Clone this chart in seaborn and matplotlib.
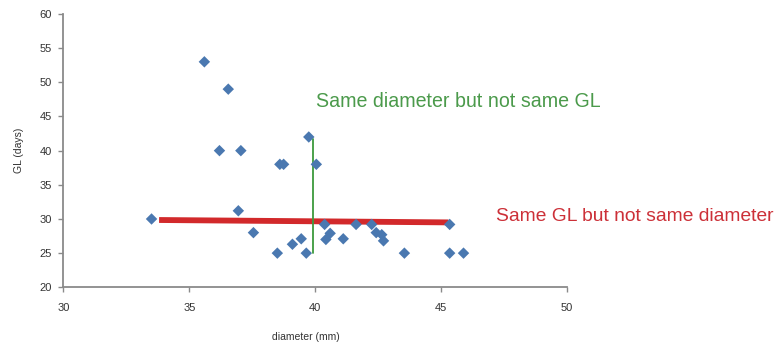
import matplotlib
matplotlib.use("Agg")
import matplotlib.pyplot as plt
import seaborn as sns
import pandas as pd

# data
diameter = [33.5, 35.6, 36.55, 36.2, 37.05, 38.6, 38.75, 39.75, 40.05,
            36.95, 37.55, 38.5, 39.1, 39.45, 39.65,
            40.38, 40.6, 40.43, 41.12, 41.63, 42.25, 42.43, 42.65, 42.72,
            43.55, 45.35, 45.35, 45.9]
gl_days = [30, 53, 49, 40, 40, 38, 38, 42, 38,
           31.2, 28, 25, 26.3, 27.1, 25,
           29.2, 27.9, 27.0, 27.1, 29.2, 29.2, 28.0, 27.7, 26.8,
           25, 29.2, 25, 25]

red_line_x = [33.8, 45.3]
red_line_y = [29.85, 29.5]
green_line_x = [39.9, 39.9]
green_line_y = [41.7, 25.0]

x_ticks = [30, 35, 40, 45, 50]
y_ticks = [20, 25, 30, 35, 40, 45, 50, 55, 60]

note_green = "Same diameter but not same GL"
note_red = "Same GL but not same diameter"

sns.set_theme(style="white")
plt.rcParams['font.family'] = ['Liberation Sans', 'DejaVu Sans']

fig = plt.figure(figsize=(7.77, 3.48), dpi=100)
ax = fig.add_axes([0.0817, 0.1744, 0.6476, 0.7854])

df = pd.DataFrame({"diameter": diameter, "gl": gl_days})
sns.lineplot(x=red_line_x, y=red_line_y, ax=ax, color="#d2292b", linewidth=4.2,
             estimator=None, sort=False, solid_capstyle="butt", zorder=2)
sns.lineplot(x=green_line_x, y=green_line_y, ax=ax, color="#3d9a3d", linewidth=1.3,
             estimator=None, sort=False, zorder=2)
sns.scatterplot(data=df, x="diameter", y="gl", ax=ax, marker="D", s=34,
                color="#4a78b0", edgecolor="none", linewidth=0, zorder=3)

ax.set_xlim(30, 50)
ax.set_ylim(20, 60)
ax.set_xticks(x_ticks)
ax.set_yticks(y_ticks)
ax.set_xticklabels([str(t) for t in x_ticks])
ax.set_yticklabels([str(t) for t in y_ticks])

for s in ["top", "right"]:
    ax.spines[s].set_visible(False)
for s in ["left", "bottom"]:
    ax.spines[s].set_color("#8a8a8a")
    ax.spines[s].set_linewidth(1.3)

ax.tick_params(axis="both", which="major", direction="out", length=3.5, width=1,
               color="#8a8a8a", labelsize=8, labelcolor="#333333",
               bottom=True, left=True, pad=5)
ax.tick_params(axis="x", pad=8)

ax.set_xlabel("diameter (mm)", fontsize=7.5, color="#333333")
ax.xaxis.set_label_coords(0.482, -0.163)
ax.set_ylabel("GL (days)", fontsize=7.5, color="#333333", labelpad=11)

ax.text(40.03, 47.2, note_green, color="#4b9a4b", fontsize=14.1,
        ha="left", va="center", clip_on=False)
ax.text(47.2, 30.4, note_red, color="#cc3038", fontsize=13.85,
        ha="left", va="center", clip_on=False)

fig.savefig("out.png", dpi=100, facecolor="white")
